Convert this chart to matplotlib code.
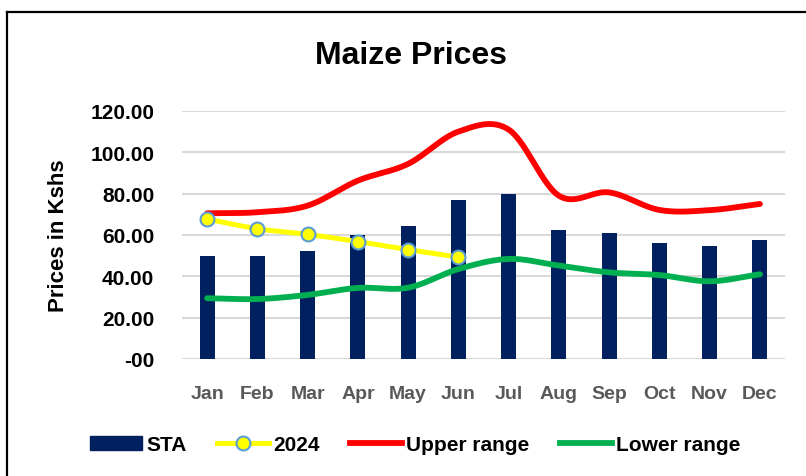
import numpy as np
import matplotlib.pyplot as plt
from matplotlib.lines import Line2D

months = ['Jan', 'Feb', 'Mar', 'Apr', 'May', 'Jun', 'Jul', 'Aug', 'Sep', 'Oct', 'Nov', 'Dec']
sta = [50.0, 50.0, 52.1, 60.0, 64.2, 76.9, 79.8, 62.4, 60.8, 56.1, 54.7, 57.7]
prices_2024 = [67.7, 63.0, 60.3, 56.8, 52.9, 49.3]
upper_range = [70.5, 71.0, 74.2, 86.3, 94.4, 110.0, 111.0, 79.0, 80.6, 72.1, 72.0, 75.0]
lower_range = [29.4, 29.0, 31.0, 34.4, 34.5, 43.5, 48.4, 45.2, 41.9, 40.6, 37.6, 41.0]
y_ticks = [0, 20, 40, 60, 80, 100, 120]
y_tick_labels = ['-00', '20.00', '40.00', '60.00', '80.00', '100.00', '120.00']

plt.rcParams['font.family'] = ['Liberation Sans', 'DejaVu Sans']
plt.rcParams['font.weight'] = 'bold'


def smooth(y, n=30):
    # catmull-rom style curve through the points, like Excel's smoothed line
    y = np.asarray(y, float)
    x = np.arange(len(y))
    m = np.gradient(y)
    xs, ys = [], []
    for i in range(len(y) - 1):
        t = np.linspace(0, 1, n)
        h00 = 2*t**3 - 3*t**2 + 1
        h10 = t**3 - 2*t**2 + t
        h01 = -2*t**3 + 3*t**2
        h11 = t**3 - t**2
        xs.append(x[i] + t)
        ys.append(h00*y[i] + h10*m[i] + h01*y[i+1] + h11*m[i+1])
    return np.concatenate(xs), np.concatenate(ys)


fig = plt.figure(figsize=(8.06, 4.77), dpi=100)
ax = fig.add_axes([0.2258, 0.2453, 0.7482, 0.5200])

x = np.arange(len(months))
ax.bar(x, sta, width=0.3, color='#002060', zorder=2, label='STA')

xu, yu = smooth(upper_range)
xl, yl = smooth(lower_range)
xp, yp = smooth(prices_2024)
ax.plot(xu, yu, color='#FF0000', lw=4.2, solid_capstyle='round', zorder=3)
ax.plot(xl, yl, color='#00B050', lw=4.2, solid_capstyle='round', zorder=3)
ax.plot(xp, yp, color='#FFFF00', lw=3.6, solid_capstyle='round', zorder=4)
ax.plot(np.arange(len(prices_2024)), prices_2024, 'o', ms=10, mfc='#FFFF00',
        mec='#5B9BD5', mew=1.5, zorder=5)

ax.set_xlim(-0.5, 11.5)
ax.set_ylim(0, 120)
ax.set_yticks(y_ticks)
ax.set_yticklabels(y_tick_labels, fontsize=15, fontweight='bold', color='black')
ax.set_xticks(x)
ax.set_xticklabels(months, fontsize=14, fontweight='bold', color='#595959')
ax.tick_params(length=0, axis='y', pad=20)
ax.tick_params(length=0, axis='x', pad=19)
ax.grid(axis='y', color='#D9D9D9', lw=1.5, zorder=0)
ax.set_axisbelow(True)
for s in ax.spines.values():
    s.set_visible(False)

fig.text(0.51, 0.882, 'Maize Prices', ha='center', va='center', fontsize=23, fontweight='bold')
fig.text(0.073, 0.505, 'Prices in Kshs', ha='center', va='center', rotation=90,
         fontsize=16, fontweight='bold')

handles = [
    plt.Rectangle((0, 0), 1, 1, color='#002060'),
    Line2D([], [], color='#FFFF00', lw=3.6, marker='o', ms=10, mfc='#FFFF00', mec='#5B9BD5', mew=1.5),
    Line2D([], [], color='#FF0000', lw=4.2),
    Line2D([], [], color='#00B050', lw=4.2),
]
fig.legend(handles, ['STA', '2024', 'Upper range', 'Lower range'], loc='center',
           bbox_to_anchor=(0.515, 0.065), ncol=4, frameon=False,
           handlelength=2.5, handletextpad=0.2, columnspacing=1.45,
           prop={'weight': 'bold', 'size': 15})

# chart border (top and left edges visible)
fig.add_artist(Line2D([7/806, 1], [1 - 13/477, 1 - 13/477], color='black', lw=1.6))
fig.add_artist(Line2D([7/806, 7/806], [0, 1 - 13/477], color='black', lw=1.6))

fig.savefig('out.png', dpi=100)
